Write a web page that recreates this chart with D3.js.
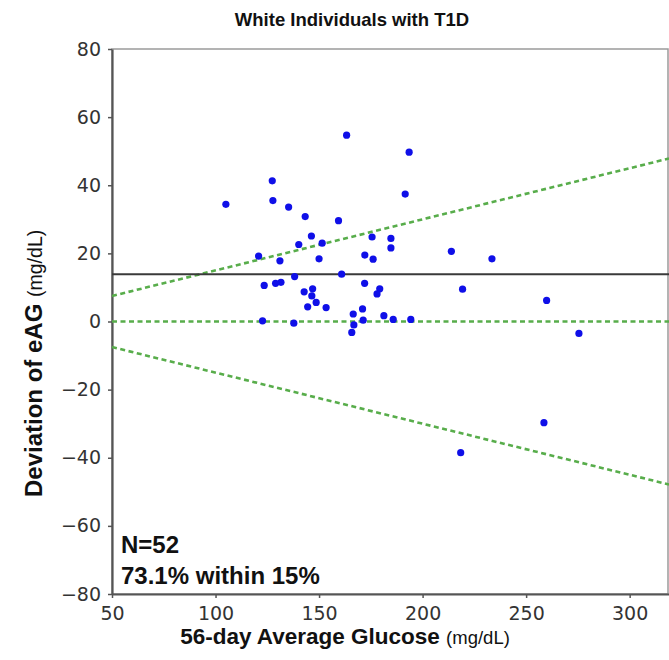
<!DOCTYPE html>
<html>
<head>
<meta charset="utf-8">
<script src="https://cdn.jsdelivr.net/npm/d3@7"></script>
<style>
  body { margin: 0; background: #fff; }
  text { font-family: "Liberation Sans", Arial, sans-serif; }
</style>
</head>
<body>
<div id="chart"></div>
<script>
// data
var glucose = [105.0, 127.4, 127.7, 135.3, 163.3, 193.5, 191.6, 143.3, 159.4, 146.3,
               175.6, 184.7, 140.2, 151.5, 184.7, 213.9, 172.1, 150.0, 176.1, 120.8,
               131.1, 160.9, 138.2, 131.6, 129.0, 123.5, 172.0, 219.3, 179.3, 178.0,
               142.8, 146.9, 146.5, 148.6, 144.5, 153.4, 171.0, 166.5, 181.3, 185.8,
               194.3, 171.3, 137.8, 166.8, 165.8, 122.7, 233.5, 259.9, 275.5, 258.6,
               218.4];
var deviation = [34.4, 41.3, 35.5, 33.6, 54.7, 49.7, 37.4, 30.8, 29.6, 25.1,
                 24.8, 24.4, 22.6, 23.0, 21.6, 20.6, 19.5, 18.4, 18.3, 19.2,
                 17.8, 13.9, 13.2, 11.5, 11.2, 10.6, 11.2, 9.5, 9.6, 8.1,
                 8.7, 9.6, 7.5, 5.6, 4.3, 4.1, 3.7, 2.2, 1.7, 0.6,
                 0.6, 0.4, -0.5, -1.0, -3.2, 0.2, 18.4, 6.2, -3.5, -29.7,
                 -38.5];
var meanBias = 13.9;
var limitPct = [0.15, 0, -0.15];
var xTicks = [50, 100, 150, 200, 250, 300];
var yTicks = [-80, -60, -40, -20, 0, 20, 40, 60, 80];
var notes = ["N=52", "73.1% within 15%"];

(function() {
var w = 669, h = 660;
var pL = 112, pR = 669, pT = 49, pB = 594;

var svg = d3.select('#chart').append('svg')
    .attr('width', w)
    .attr('height', h);

var x = d3.scaleLinear().domain([50, 319]).range([pL, pR]);
var y = d3.scaleLinear().domain([-80, 80]).range([pB, pT]);

// frame
svg.append('rect')
    .attr('x', pL).attr('y', pT)
    .attr('width', pR - pL - 1).attr('height', pB - pT)
    .attr('fill', 'none').attr('stroke', '#9a9a9a').attr('stroke-width', 1.5);

// axes
var gx = svg.append('g')
    .attr('transform', 'translate(0,' + pB + ')')
    .call(d3.axisBottom(x).tickValues(xTicks).tickSize(4).tickPadding(6).tickSizeOuter(0));
var gy = svg.append('g')
    .attr('transform', 'translate(' + pL + ',0)')
    .call(d3.axisLeft(y).tickValues(yTicks).tickSize(4).tickPadding(7).tickSizeOuter(0)
      .tickFormat(function(d) { return d < 0 ? '\u2212' + Math.abs(d) : d; }));

[gx, gy].forEach(function(g) {
  g.select('.domain').attr('stroke', '#555').attr('stroke-width', 2.2);
  g.selectAll('.tick line').attr('stroke', '#555').attr('stroke-width', 1.5);
  g.selectAll('.tick text')
    .attr('fill', '#333')
    .style('font-family', '"DejaVu Sans", sans-serif')
    .style('font-size', '19px');
});
gx.selectAll('.tick text').attr('dy', '0.85em');

// limit lines (+15%, 0, -15%)
var xd = x.domain();
svg.selectAll('line.limit')
    .data(limitPct)
  .enter().append('line')
    .attr('class', 'limit')
    .attr('x1', x(xd[0])).attr('x2', x(xd[1]))
    .attr('y1', function(p) { return y(p * xd[0]); })
    .attr('y2', function(p) { return y(p * xd[1]); })
    .attr('stroke', '#58ad4b')
    .attr('stroke-width', 2.6)
    .attr('stroke-dasharray', '5,3.5');

// mean bias
svg.append('line')
    .attr('x1', pL).attr('x2', pR)
    .attr('y1', y(meanBias)).attr('y2', y(meanBias))
    .attr('stroke', '#3a3a3a')
    .attr('stroke-width', 2);

// points
svg.selectAll('circle')
    .data(glucose)
  .enter().append('circle')
    .attr('cx', function(d) { return x(d); })
    .attr('cy', function(d, i) { return y(deviation[i]); })
    .attr('r', 3.6)
    .attr('fill', '#0f0fe8');

// notes
svg.selectAll('text.note')
    .data(notes)
  .enter().append('text')
    .attr('class', 'note')
    .attr('x', 121)
    .attr('y', function(d, i) { return 553 + i * 31; })
    .style('font-size', '24px')
    .style('font-weight', 'bold')
    .attr('fill', '#111')
    .text(function(d) { return d; });

// title
svg.append('text')
    .attr('x', 352).attr('y', 26)
    .attr('text-anchor', 'middle')
    .style('font-size', '18.5px')
    .style('font-weight', 'bold')
    .attr('fill', '#111')
    .text('White Individuals with T1D');

// x label
var xl = svg.append('text')
    .attr('x', 345).attr('y', 644)
    .attr('text-anchor', 'middle')
    .attr('fill', '#111');
xl.append('tspan').style('font-size', '22.5px').style('font-weight', 'bold').text('56-day Average Glucose ');
xl.append('tspan').style('font-size', '18.5px').text('(mg/dL)');

// y label
var yl = svg.append('text')
    .attr('transform', 'translate(42,497) rotate(-90)')
    .attr('text-anchor', 'start')
    .attr('fill', '#111');
yl.append('tspan').style('font-size', '24px').style('font-weight', 'bold').text('Deviation of eAG ');
yl.append('tspan').style('font-size', '19.5px').text('(mg/dL)');
})();
</script>
</body>
</html>
